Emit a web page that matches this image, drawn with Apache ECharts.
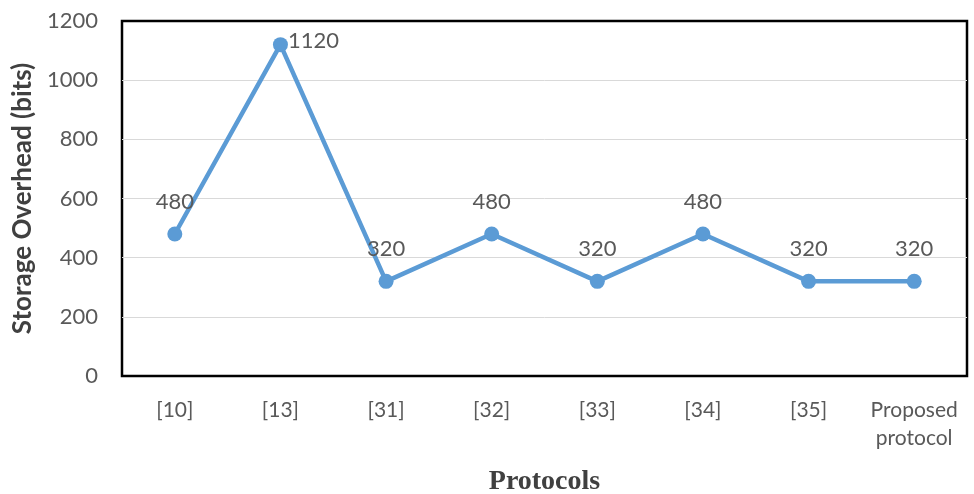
<!DOCTYPE html>
<html><head><meta charset="utf-8">
<script src="https://cdn.jsdelivr.net/npm/echarts@6/dist/echarts.min.js"></script>
<style>html,body{margin:0;padding:0;background:#fff}#c{width:974px;height:494px}</style>
</head><body><div id="c"></div>
<script>
const categories = ['[10]','[13]','[31]','[32]','[33]','[34]','[35]','Proposed\nprotocol'];
const values = [480,1120,320,480,320,480,320,320];
const yTicks = {min:0,max:1200,interval:200};

const chart = echarts.init(document.getElementById('c'));
chart.setOption({
  animation:false,
  grid:{left:122,top:21,right:7,bottom:118,containLabel:false,outerBoundsMode:'none',show:true,borderColor:'#000',borderWidth:2.5,backgroundColor:'transparent'},
  xAxis:{type:'category',data:categories,boundaryGap:true,
    axisLine:{show:false},axisTick:{show:false},
    axisLabel:{interval:0,color:'#595959',fontFamily:'Lato',fontSize:21,margin:20,lineHeight:28,verticalAlign:'top'},
    name:'Protocols',nameLocation:'middle',nameGap:92,
    nameTextStyle:{fontFamily:'Liberation Serif',fontWeight:'bold',fontSize:28,color:'#404040'}},
  yAxis:{type:'value',min:yTicks.min,max:yTicks.max,interval:yTicks.interval,
    axisLine:{show:false},axisTick:{show:false},
    splitLine:{showMinLine:false,showMaxLine:false,lineStyle:{color:'#d9d9d9',width:1}},
    axisLabel:{color:'#595959',fontFamily:'Lato',fontSize:22,margin:24,formatter:v=>String(v)},
    name:'Storage Overhead (bits)',nameLocation:'middle',nameGap:86,nameRotate:90,
    nameTextStyle:{fontFamily:'Lato',fontWeight:'bold',fontSize:26,color:'#404040'}},
  series:[{type:'line',data:values.map((v,i)=> i===1?{value:v,label:{position:'right',distance:0,offset:[0,-4]}}:v),
    symbol:'circle',symbolSize:15,
    lineStyle:{color:'#5B9BD5',width:4.5},itemStyle:{color:'#5B9BD5'},
    label:{show:true,position:'top',distance:14,color:'#595959',fontFamily:'Lato',fontSize:22}}]
});
</script></body></html>
